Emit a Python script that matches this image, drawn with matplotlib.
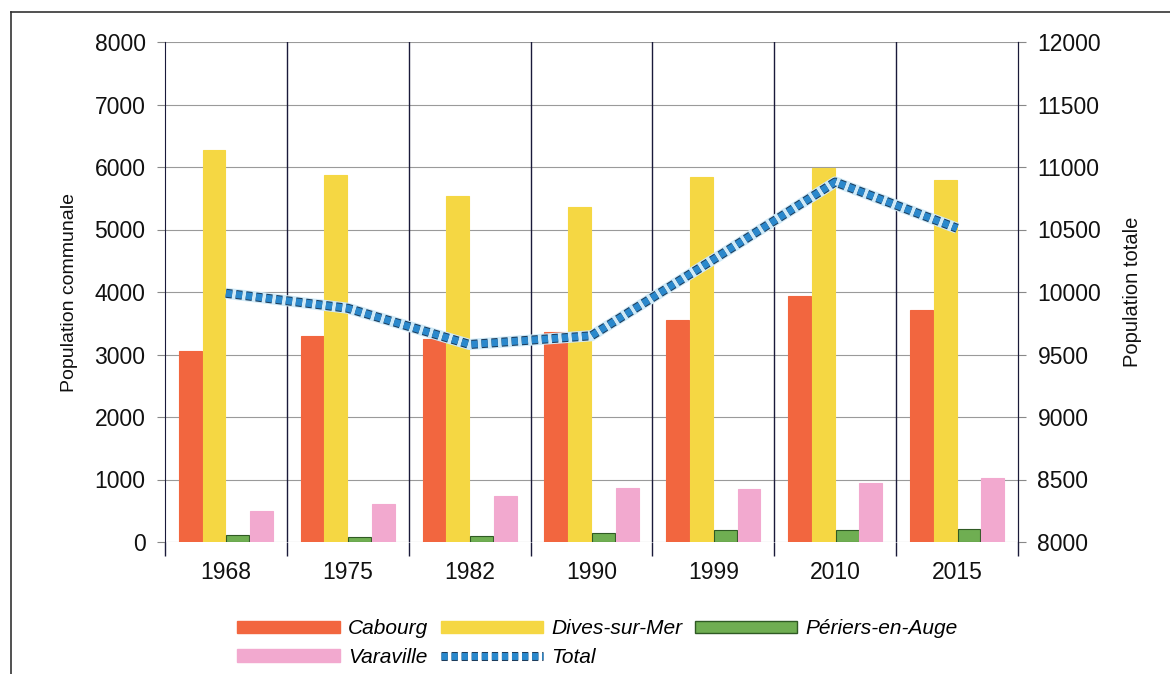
import matplotlib
matplotlib.use("Agg")
import matplotlib.pyplot as plt
import matplotlib.patheffects as pe
from matplotlib.patches import Patch
from matplotlib.lines import Line2D
import numpy as np

plt.rcParams['font.family'] = ['Liberation Sans Narrow', 'Liberation Sans', 'DejaVu Sans']

years = ["1968", "1975", "1982", "1990", "1999", "2010", "2015"]
cabourg = [3050, 3300, 3250, 3360, 3550, 3930, 3720]
dives = [6280, 5870, 5530, 5360, 5840, 5990, 5790]
periers = [110, 80, 100, 140, 190, 190, 210]
varaville = [500, 610, 740, 860, 850, 940, 1020]
total = [9990, 9870, 9580, 9650, 10260, 10880, 10510]

series_names = ["Cabourg", "Dives-sur-Mer", "Périers-en-Auge", "Varaville"]
bar_colors = ["#f2663f", "#f5d743", "#6fae52", "#f2a9cf"]
bar_edges = ["#f2663f", "#f5d743", "#2f5a24", "#f2a9cf"]

W, H = 1170, 674
fig = plt.figure(figsize=(W / 100, H / 100), dpi=100)
fig.patch.set_facecolor("white")

# outer frame (top and left edges)
fig.add_artist(Line2D([11 / W, 11 / W], [0, 1 - 12 / H], color="#333333", lw=1.2))
fig.add_artist(Line2D([11 / W, 1], [1 - 12 / H, 1 - 12 / H], color="#333333", lw=1.2))

left, right, top, bottom = 165, 1018, 42, 542
ax = fig.add_axes([left / W, 1 - bottom / H, (right - left) / W, (bottom - top) / H])
ax2 = ax.twinx()

x = np.arange(len(years))
bw = 0.195
offsets = np.array([-1.5, -0.5, 0.5, 1.5]) * bw
data = [cabourg, dives, periers, varaville]
for vals, off, c, ec in zip(data, offsets, bar_colors, bar_edges):
    ax.bar(x + off, vals, width=bw * 0.96, color=c, edgecolor=ec, linewidth=0.8, zorder=3)

ax.set_xlim(-0.5, len(years) - 0.5)
ax.set_ylim(0, 8000)
ax.set_yticks(np.arange(0, 8001, 1000))
ax.grid(axis="y", color="#9a9a9a", lw=0.8, zorder=0)
ax.set_axisbelow(True)

# category separators and labels
ax.set_xticks(np.arange(-0.5, len(years), 1.0))
ax.set_xticklabels([])
ax.set_xticks(x, minor=True)
ax.set_xticklabels(years, minor=True)
ax.tick_params(axis="x", which="major", length=10, color="#1a1a3a", width=1)
ax.tick_params(axis="x", which="minor", length=0, labelsize=16.5, pad=14, colors="#111111")
for xv in np.arange(0.5, len(years) - 1, 1.0):
    ax.axvline(xv, color="#1a1a3a", lw=1, zorder=1)

ax.tick_params(axis="y", length=6, color="#888888", labelsize=16.5, pad=8, labelcolor="#111111")
ax.set_ylabel("Population communale", fontsize=14, labelpad=12, color="#111111")

for s in ["top", "bottom"]:
    ax.spines[s].set_visible(False)
    ax2.spines[s].set_visible(False)
ax.spines["left"].set_color("#1a1a3a")
ax2.spines["right"].set_color("#1a1a3a")
ax2.spines["left"].set_visible(False)

ax2.set_ylim(8000, 12000)
ax2.set_yticks(np.arange(8000, 12001, 500))
ax2.tick_params(axis="y", length=6, color="#888888", labelsize=16.5, pad=8, labelcolor="#111111")
ax2.set_ylabel("Population totale", fontsize=14.5, labelpad=16, color="#111111")

# total line: light halo under a chain of blue squares
ax2.plot(x, total, color="#cfeaf8", lw=8, solid_capstyle="butt", zorder=4)
ax2.plot(x, total, color="#2a88cc", lw=5, linestyle=(0, (0.9, 0.55)),
         dash_capstyle="butt", zorder=5,
         path_effects=[pe.Stroke(linewidth=6.5, foreground="#1d3d5c"), pe.Normal()])

handles = [
    Patch(facecolor=bar_colors[0], edgecolor=bar_colors[0]),
    Patch(facecolor=bar_colors[3], edgecolor=bar_colors[3]),
    Patch(facecolor=bar_colors[1], edgecolor=bar_colors[1]),
    Line2D([0], [0], color="#2a88cc", lw=5, linestyle=(0, (0.9, 0.55)), dash_capstyle="butt",
           path_effects=[pe.Stroke(linewidth=6.5, foreground="#1d3d5c"), pe.Normal()]),
    Patch(facecolor=bar_colors[2], edgecolor=bar_edges[2]),
]
labels = ["Cabourg", "Varaville", "Dives-sur-Mer", "Total", "Périers-en-Auge"]
fig.legend(handles, labels, loc="upper left", bbox_to_anchor=(227 / W, 1 - 609 / H),
           ncol=3, frameon=False, borderpad=0,
           prop={"style": "italic", "size": 15},
           handlelength=4.9, handleheight=0.55, handletextpad=0.4,
           columnspacing=0.6, labelspacing=0.45)

fig.savefig("out.png", dpi=100, facecolor="white")
